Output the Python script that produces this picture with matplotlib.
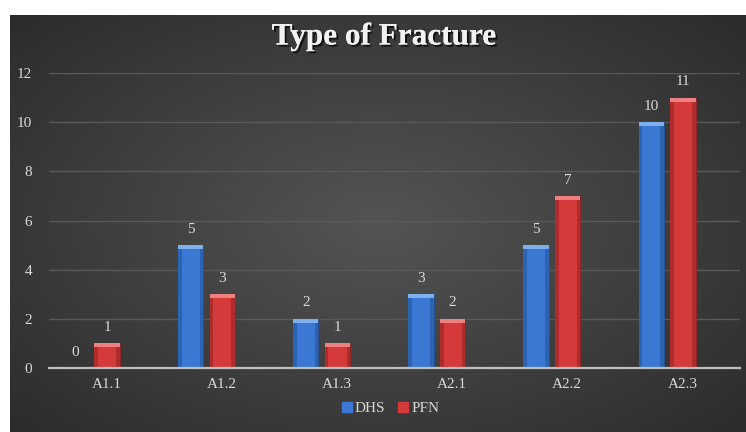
import numpy as np
import matplotlib
matplotlib.use("Agg")
import matplotlib.pyplot as plt
import matplotlib.patheffects as pe
from matplotlib.lines import Line2D

categories = ["A1.1", "A1.2", "A1.3", "A2.1", "A2.2", "A2.3"]
dhs = [0, 5, 2, 3, 5, 10]
pfn = [1, 3, 1, 2, 7, 11]
series_names = ["DHS", "PFN"]
yticks = [0, 2, 4, 6, 8, 10, 12]

W, H = 746, 432
fig = plt.figure(figsize=(W / 100, H / 100), dpi=100)
fig.patch.set_facecolor("white")

# dark radial-gradient background panel
bg = fig.add_axes([10 / W, 0, 1 - 10 / W, 1 - 15 / H])
bg.set_axis_off()
ny, nx = 200, 360
yy, xx = np.mgrid[-1:1:ny * 1j, -1:1:nx * 1j]
r = np.sqrt((xx * 0.95) ** 2 + (yy * 0.9) ** 2)
val = 0.33 - 0.17 * np.clip(r, 0, 1.4) / 1.4
img = np.dstack([val, val, val])
bg.imshow(img, aspect="auto", extent=[0, 1, 0, 1], interpolation="bilinear")
bg.set_xlim(0, 1)
bg.set_ylim(0, 1)

ax = fig.add_axes([49 / W, 1 - 368 / H, (740 - 49) / W, (368 - 73) / H])
ax.set_facecolor("none")

x = np.arange(len(categories))
bw = 0.22
off_dhs = -0.27
off_pfn = 0.005
blue = "#3b78d4"
red = "#d43a3a"

b1 = ax.bar(x + off_dhs, dhs, width=bw, color=blue, edgecolor="#244f8f", linewidth=0.6, zorder=3)
b2 = ax.bar(x + off_pfn, pfn, width=bw, color=red, edgecolor="#8e2222", linewidth=0.6, zorder=3)

# bevel highlights at top of bars and subtle side shading
for bars, hl, sh in ((b1, "#7fb0ee", "#2d63b3"), (b2, "#ee8080", "#b02c2c")):
    for b in bars:
        h = b.get_height()
        if h > 0:
            w = b.get_width()
            x0 = b.get_x()
            ax.bar(x0 + w * 0.07, h, width=w * 0.14, color=sh, linewidth=0, zorder=3.5)
            ax.bar(x0 + w * 0.93, h, width=w * 0.14, color=sh, linewidth=0, zorder=3.5)
            ax.bar(x0 + w / 2, 0.16, bottom=h - 0.16, width=w,
                   color=hl, linewidth=0, zorder=4)

label_color = "#d9d9d9"
serif = "Liberation Serif"
for xs, vals in ((x + off_dhs, dhs), (x + off_pfn, pfn)):
    for xi, v in zip(xs, vals):
        ax.text(xi, v + 0.38, str(v), ha="center", va="bottom", fontsize=11,
                color=label_color, family=serif)

ax.set_xlim(-0.5, len(categories) - 0.5)
ax.set_ylim(0, 12)
ax.set_yticks(yticks)
ax.set_yticklabels([str(t) for t in yticks], family=serif, fontsize=11, color=label_color)
ax.set_xticks(x)
ax.set_xticklabels(categories, family=serif, fontsize=11, color=label_color)
ax.tick_params(axis="both", length=0)
ax.tick_params(axis="y", pad=12)
ax.tick_params(axis="x", pad=7)
for s in ["top", "right", "left"]:
    ax.spines[s].set_visible(False)
ax.spines["bottom"].set_color("#bfbfbf")
ax.spines["bottom"].set_linewidth(1.6)
ax.spines["bottom"].set_zorder(5)
ax.yaxis.grid(True, color="#595959", linewidth=1.0, zorder=0)
ax.set_axisbelow(True)

fig.text(384 / W, 1 - 37 / H, "Type of Fracture", ha="center", va="center",
         fontsize=22.5, fontweight="bold", color="#f2f2f2", family=serif,
         path_effects=[pe.withSimplePatchShadow(offset=(1.5, -1.5), shadow_rgbFace="black", alpha=0.7),
                       pe.Normal()])

handles = [Line2D([], [], marker="s", linestyle="none", markersize=6.5, markerfacecolor=blue, markeredgecolor=blue),
           Line2D([], [], marker="s", linestyle="none", markersize=6.5, markerfacecolor=red, markeredgecolor=red)]
leg = fig.legend(handles, series_names, loc="center", bbox_to_anchor=(390 / W, 1 - 408 / H), ncol=2,
                 frameon=False, handletextpad=0.1, columnspacing=0.8, handlelength=0.8,
                 prop={"family": serif, "size": 11})
for t in leg.get_texts():
    t.set_color(label_color)

fig.savefig("out.png", dpi=100, facecolor=fig.get_facecolor())
